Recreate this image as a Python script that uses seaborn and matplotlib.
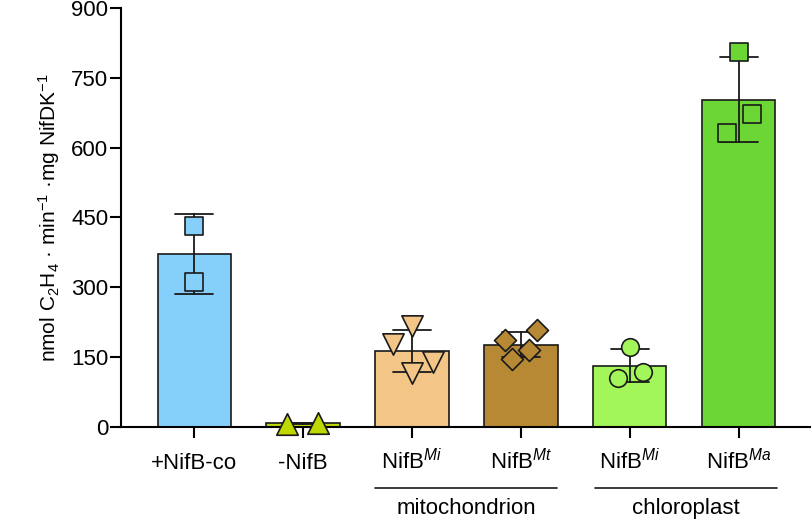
import numpy as np
import pandas as pd
import seaborn as sns
import matplotlib.pyplot as plt

# === Data ===
groups = ["ctrl_pos", "ctrl_neg", "mito_Mi", "mito_Mt", "chl_Mi", "chl_Ma"]
tick_labels = ["+NifB-co", "-NifB", r"NifB$^{\mathit{Mi}}$", r"NifB$^{\mathit{Mt}}$",
               r"NifB$^{\mathit{Mi}}$", r"NifB$^{\mathit{Ma}}$"]

ctrl_pos = [432, 311]
ctrl_neg = [7, 9]
mito_Mi = [178, 218, 140, 116]
mito_Mt = [187, 208, 165, 146]
chl_Mi = [172, 105, 118]
chl_Ma = [632, 672, 805]

# horizontal spread of the replicate symbols (fraction of bar spacing)
jitter = {
    "ctrl_pos": [0.0, 0.0],
    "ctrl_neg": [-0.15, 0.14],
    "mito_Mi": [-0.17, 0.0, 0.19, 0.0],
    "mito_Mt": [-0.15, 0.15, 0.07, -0.08],
    "chl_Mi": [0.0, -0.11, 0.12],
    "chl_Ma": [-0.11, 0.12, 0.0],
}

colors = ["#85CFFB", "#BFD800", "#F3C688", "#B78935", "#A3F65A", "#6BD634"]
markers = ["s", "^", "v", "D", "o", "s"]
sizes = [150, 240, 235, 125, 160, 150]

compartments = ["mitochondrion", "chloroplast"]
compartment_span = [(1.66, 3.33), (3.68, 5.35)]

values = [ctrl_pos, ctrl_neg, mito_Mi, mito_Mt, chl_Mi, chl_Ma]
df = pd.DataFrame({
    "group": np.repeat(groups, [len(v) for v in values]),
    "activity": np.concatenate(values),
})

# === Style ===
sns.set_style("ticks")
plt.rcParams["font.family"] = ["Liberation Sans", "DejaVu Sans"]
plt.rcParams["mathtext.fontset"] = "custom"
plt.rcParams["mathtext.rm"] = "Liberation Sans"
plt.rcParams["mathtext.it"] = "Liberation Sans:italic"
plt.rcParams["text.color"] = "black"
plt.rcParams["axes.labelcolor"] = "black"
plt.rcParams["xtick.color"] = "black"
plt.rcParams["ytick.color"] = "black"
plt.rcParams["axes.edgecolor"] = "black"

ink = "#1a1a1a"

fig = plt.figure(figsize=(8.12, 5.19), dpi=100)
ax = fig.add_axes([0.149, 0.177, 0.851, 0.808])

# === Bars with mean +/- SD ===
sns.barplot(data=df, x="group", y="activity", hue="group", order=groups,
            hue_order=groups, palette=colors, saturation=1, errorbar="sd",
            capsize=0.34, err_kws={"color": ink, "linewidth": 1.3},
            edgecolor=ink, linewidth=1.2, width=0.67, legend=False, ax=ax)

# === Replicate points ===
for i, g in enumerate(groups):
    x = i + np.array(jitter[g])
    ax.scatter(x, values[i], marker=markers[i], s=sizes[i], c=colors[i],
               edgecolors=ink, linewidths=1.2, zorder=4, clip_on=False)

ax.set_xlim(-0.67, 5.67)
ax.set_ylim(0, 900)
ax.set_yticks(np.arange(0, 901, 150))
ax.set_xticks(range(len(groups)))
ax.set_xticklabels(tick_labels, fontsize=16, va="baseline")
ax.tick_params(axis="y", labelsize=16, length=8, width=1.5, pad=1)
ax.tick_params(axis="x", length=8, width=1.5, pad=22)
ax.set_xlabel("")
ax.set_ylabel(r"nmol C$_2$H$_4$ · min$^{-1}$ ·mg NifDK$^{-1}$", fontsize=15, labelpad=7)
sns.despine(ax=ax)
for s in ["left", "bottom"]:
    ax.spines[s].set_linewidth(1.5)

# === Compartment brackets below the labels ===
trans = ax.get_xaxis_transform()
for name, (x0, x1) in zip(compartments, compartment_span):
    ax.plot([x0, x1], [-0.146, -0.146], color=ink, linewidth=1.2,
            transform=trans, clip_on=False)
    ax.text((x0 + x1) / 2, -0.193, name, fontsize=16, ha="center", va="center",
            transform=trans)

plt.savefig("out.png", dpi=100)
